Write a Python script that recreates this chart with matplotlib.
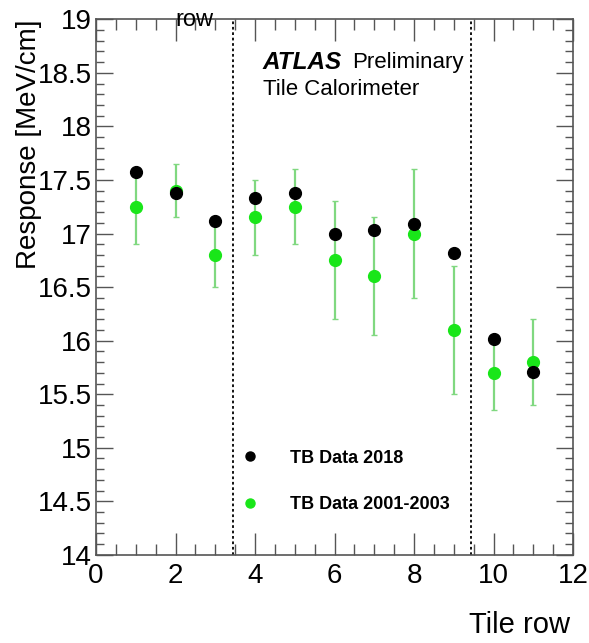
import matplotlib.pyplot as plt
from matplotlib.ticker import MultipleLocator
from matplotlib.lines import Line2D

plt.rcParams['font.family'] = ['Liberation Sans', 'DejaVu Sans']

rows = [1, 2, 3, 4, 5, 6, 7, 8, 9, 10, 11]
resp_2018 = [17.57, 17.38, 17.12, 17.33, 17.38, 17.00, 17.03, 17.09, 16.82, 16.02, 15.71]
resp_old = [17.25, 17.40, 16.80, 17.15, 17.25, 16.75, 16.60, 17.00, 16.10, 15.70, 15.80]
err_old = [0.35, 0.25, 0.30, 0.35, 0.35, 0.55, 0.55, 0.60, 0.60, 0.35, 0.40]
dividers = [3.44, 9.43]

fig = plt.figure(figsize=(5.89, 6.43), dpi=100)
ax = fig.add_axes([0.163, 0.137, 0.810, 0.833])

ax.errorbar(rows, resp_old, yerr=err_old, fmt='none', ecolor='#80d880',
            elinewidth=1.6, capsize=2, capthick=1.0, zorder=2)
ax.plot(rows, resp_old, 'o', color='#19e619', markersize=8.5, zorder=3)
ax.plot(rows, resp_2018, 'o', color='black', markersize=8.5, zorder=4)

for d in dividers:
    ax.axvline(d, color='black', linestyle=(0, (1.5, 1.5)), linewidth=1.3, zorder=1)

ax.set_xlim(0, 12)
ax.set_ylim(14, 19)
ax.xaxis.set_major_locator(MultipleLocator(2))
ax.xaxis.set_minor_locator(MultipleLocator(0.5))
ax.yaxis.set_major_locator(MultipleLocator(0.5))
ax.yaxis.set_minor_locator(MultipleLocator(0.1))
ax.yaxis.set_major_formatter(plt.FuncFormatter(lambda v, p: f"{v:g}"))
ax.tick_params(which='both', direction='in', top=True, right=True,
               color='#555555', labelsize=20, width=1.0)
ax.tick_params(axis='x', which='major', length=16, pad=6)
ax.tick_params(axis='x', which='minor', length=8)
ax.tick_params(axis='y', which='major', length=12, pad=3)
ax.tick_params(axis='y', which='minor', length=6)
for s in ax.spines.values():
    s.set_color('#555555')
    s.set_linewidth(1.2)

ax.set_ylabel('Response [MeV/cm]', fontsize=20, loc='top')
ax.yaxis.set_label_coords(-0.113, 1.0)
fig.text(0.968, 0.006, 'Tile row', fontsize=21, ha='right', va='bottom')
fig.text(0.297, 0.960, 'row', fontsize=17, ha='left', va='baseline')

ax.text(0.350, 0.920, 'ATLAS', transform=ax.transAxes, fontsize=17.5,
        fontweight='bold', fontstyle='italic', va='center')
ax.text(0.537, 0.920, 'Preliminary', transform=ax.transAxes, fontsize=16, va='center')
ax.text(0.350, 0.868, 'Tile Calorimeter', transform=ax.transAxes, fontsize=16, va='center')

handles = [Line2D([], [], marker='o', color='black', linestyle='none', markersize=6.5),
           Line2D([], [], marker='o', color='#19e619', linestyle='none', markersize=6.5)]
ax.legend(handles, ['TB Data 2018', 'TB Data 2001-2003'], loc='upper left',
          bbox_to_anchor=(0.288, 0.210), frameon=False, prop={'weight': 'bold', 'size': 13},
          labelspacing=1.62, handlelength=1.0, handletextpad=1.75, borderaxespad=0)

fig.savefig('out.png', dpi=100)
